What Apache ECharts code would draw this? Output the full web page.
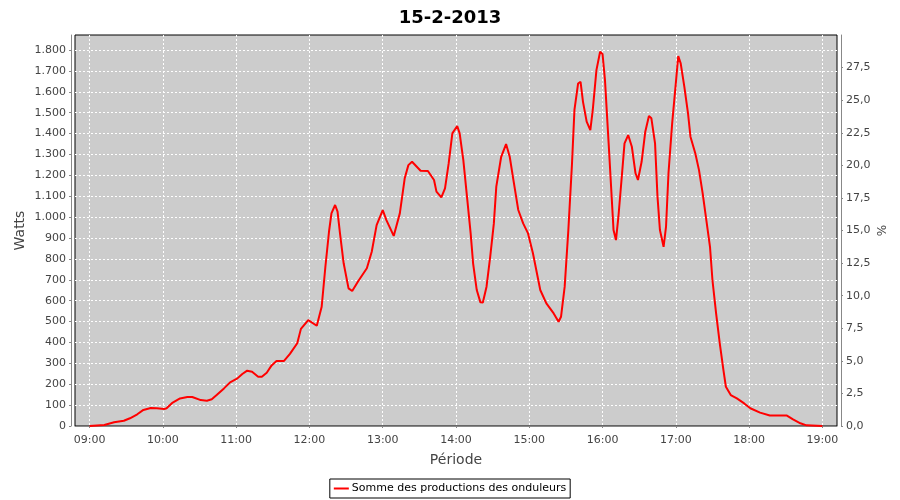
<!DOCTYPE html>
<html>
<head>
<meta charset="utf-8">
<script src="https://cdn.jsdelivr.net/npm/echarts@6/dist/echarts.min.js"></script>
<style>html,body{margin:0;padding:0;background:#fff}#c{width:900px;height:500px}</style>
</head>
<body>
<div id="c"></div>
<script>
var chartTitle = '15-2-2013';
var seriesName = 'Somme des productions des onduleurs';
var times = ['09:00','09:12','09:20','09:28','09:33','09:39','09:44','09:50','09:55','10:01','10:03','10:08','10:14','10:20','10:24','10:31','10:36','10:40','10:44','10:50','10:55','11:01','11:05','11:09','11:13','11:18','11:21','11:25','11:29','11:33','11:39','11:44','11:50','11:53','11:59','12:06','12:10','12:13','12:16','12:18','12:21','12:23','12:25','12:28','12:32','12:35','12:40','12:47','12:51','12:55','13:00','13:03','13:09','13:14','13:18','13:21','13:24','13:31','13:37','13:42','13:44','13:48','13:51','13:54','13:57','14:01','14:03','14:06','14:09','14:12','14:14','14:17','14:20','14:22','14:25','14:28','14:31','14:33','14:37','14:41','14:44','14:47','14:51','14:55','14:59','15:03','15:09','15:14','15:20','15:24','15:26','15:29','15:32','15:35','15:37','15:40','15:42','15:44','15:47','15:50','15:52','15:55','15:58','16:00','16:02','16:05','16:07','16:09','16:11','16:13','16:16','16:18','16:21','16:24','16:27','16:29','16:32','16:35','16:38','16:40','16:43','16:45','16:47','16:50','16:52','16:54','16:57','17:00','17:02','17:04','17:07','17:10','17:12','17:16','17:19','17:22','17:25','17:28','17:30','17:33','17:36','17:39','17:41','17:45','17:50','17:56','18:01','18:09','18:17','18:31','18:36','18:42','18:47','19:00'];
var watts = [0,5,18,25,37,56,77,86,85,81,85,112,132,139,139,124,121,128,148,180,209,228,249,265,260,236,236,255,290,311,311,345,396,465,507,480,571,760,930,1018,1058,1026,922,779,659,646,694,755,834,962,1034,986,910,1018,1186,1249,1265,1222,1221,1178,1122,1095,1138,1257,1401,1436,1401,1273,1098,922,779,651,592,591,667,810,970,1146,1289,1350,1289,1178,1034,970,922,827,651,587,539,499,523,667,938,1257,1513,1640,1648,1552,1457,1417,1513,1704,1792,1781,1656,1353,1146,938,890,1002,1210,1353,1393,1337,1210,1178,1265,1409,1484,1473,1353,1098,938,858,954,1210,1448,1640,1771,1736,1624,1497,1385,1305,1225,1114,986,858,699,539,396,268,188,148,132,108,85,64,50,50,32,13,3,0];
var axisStart = '08:48', axisEnd = '19:12';
var wattMax = 1872, pctMax = 30;

function ts(t){ var p=t.split(':'); return new Date(2013,1,15,+p[0],+p[1]).getTime(); }
var data = times.map(function(t,i){ return [ts(t), watts[i]]; });
function thousands(v){ return String(v).replace(/\B(?=(\d{3})+(?!\d))/g,'.'); }
var FONT = 'DejaVu Sans';
var GRIDLINE = {show:true,showMinLine:false,showMaxLine:false,lineStyle:{color:'#ffffff',type:[2,2],width:1}};
var chart = echarts.init(document.getElementById('c'), null, {renderer:'canvas'});
chart.setOption({
  animation:false,
  backgroundColor:'#ffffff',
  title:{text:chartTitle,left:'center',top:4,textStyle:{fontFamily:FONT,fontSize:18,fontWeight:'bold',color:'#000'}},
  grid:{left:75,right:63,top:35,bottom:74,show:true,backgroundColor:'#cccccc',borderColor:'#000',borderWidth:1},
  legend:{bottom:2,left:'center',data:[seriesName],icon:'rect',itemWidth:15,itemHeight:2,itemGap:4,
    borderColor:'#000',borderWidth:1,padding:[4,4,4,4],backgroundColor:'#fff',
    textStyle:{fontFamily:FONT,fontSize:11,color:'#000',padding:[0,0,0,-2]}},
  xAxis:{type:'time',min:ts(axisStart),max:ts(axisEnd),offset:4,minInterval:3600000,maxInterval:3600000,
    name:'Période',nameLocation:'middle',nameGap:23,nameMoveOverlap:false,nameTextStyle:{fontFamily:FONT,fontSize:14,color:'#444'},
    axisLine:{show:true,lineStyle:{color:'#888',width:1}},
    axisTick:{show:true,length:2,lineStyle:{color:'#888'}},
    axisLabel:{fontFamily:FONT,fontSize:11,color:'#444',margin:5,formatter:'{HH}:{mm}',hideOverlap:false},
    splitLine:GRIDLINE,
    minorTick:{show:false}},
  yAxis:[
    {type:'value',min:0,max:wattMax,interval:100,offset:4,position:'left',
     name:'Watts',nameLocation:'middle',nameGap:44,nameRotate:90,nameMoveOverlap:false,nameTextStyle:{fontFamily:FONT,fontSize:14,color:'#444'},
     axisLine:{show:true,lineStyle:{color:'#888'}},axisTick:{show:true,length:2,lineStyle:{color:'#888'}},
     axisLabel:{fontFamily:FONT,fontSize:11,color:'#444',margin:5,showMaxLabel:false,formatter:function(v){return thousands(v);}},
     splitLine:GRIDLINE},
    {type:'value',min:0,max:pctMax,interval:2.5,offset:4,position:'right',
     name:'%',nameLocation:'middle',nameGap:36,nameRotate:90,nameMoveOverlap:false,nameTextStyle:{fontFamily:FONT,fontSize:12,color:'#444'},
     axisLine:{show:true,lineStyle:{color:'#888'}},axisTick:{show:true,length:2,lineStyle:{color:'#888'}},
     axisLabel:{fontFamily:FONT,fontSize:11,color:'#444',margin:5,showMaxLabel:false,formatter:function(v){return v.toFixed(1).replace('.',',');}},
     splitLine:{show:false}}
  ],
  series:[{name:seriesName,type:'line',yAxisIndex:0,data:data,showSymbol:false,symbol:'none',
    lineStyle:{color:'#ff0000',width:2},itemStyle:{color:'#ff0000'}}]
});
</script>
</body>
</html>
